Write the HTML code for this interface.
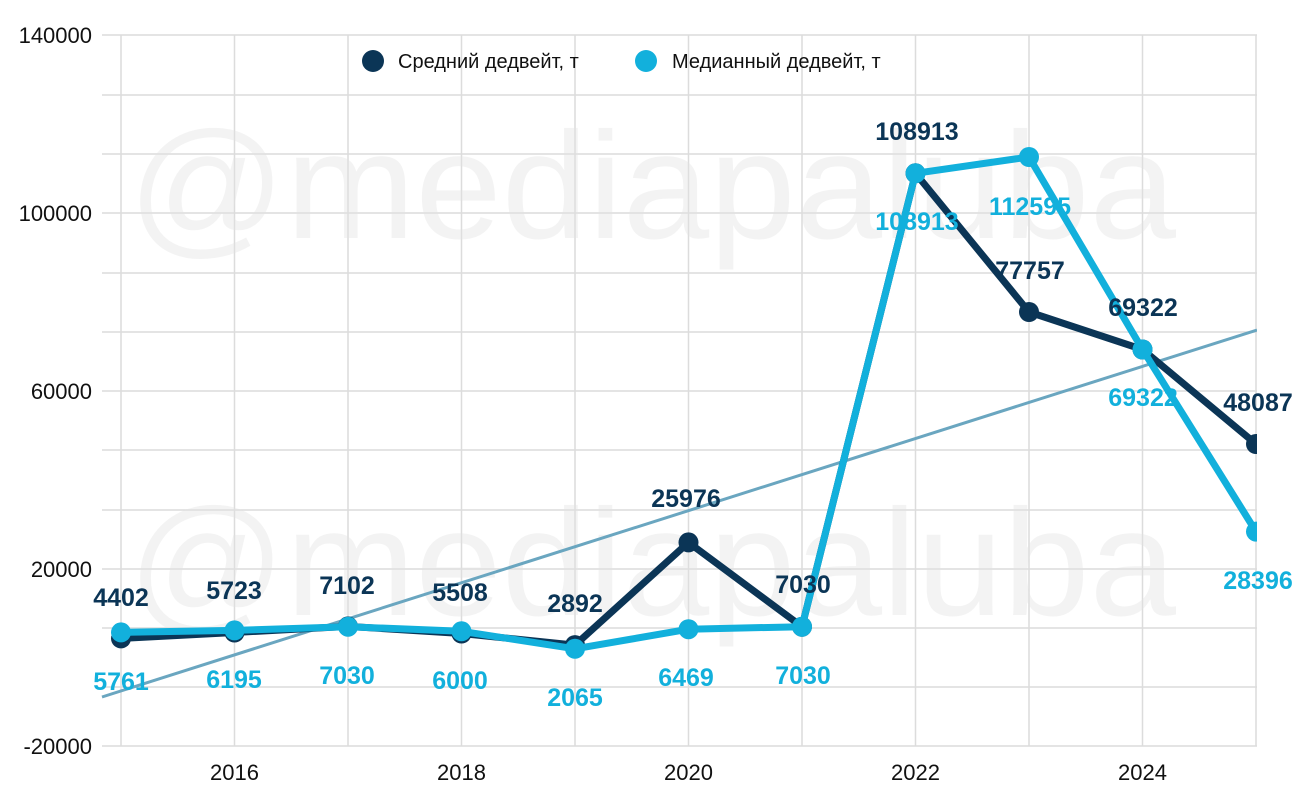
<!DOCTYPE html>
<html><head><meta charset="utf-8"><style>
html,body{margin:0;padding:0;background:#fff;}
svg{display:block;font-family:"Liberation Sans",Arial,sans-serif;}
.ax{font-size:22px;fill:#111;}
.ld{font-size:25px;font-weight:bold;fill:#0b3556;text-anchor:middle;}
.ll{font-size:25px;font-weight:bold;fill:#12b0dc;text-anchor:middle;}
</style></head><body>
<svg width="1300" height="809" viewBox="0 0 1300 809">
<defs><clipPath id="c"><rect x="0" y="0" width="1257" height="809"/></clipPath></defs>
<g stroke="#dcdcdc" stroke-width="1.5">
<line x1="102" y1="35" x2="1257" y2="35"/><line x1="102" y1="95" x2="1257" y2="95"/><line x1="102" y1="154" x2="1257" y2="154"/><line x1="102" y1="213" x2="1257" y2="213"/><line x1="102" y1="273" x2="1257" y2="273"/><line x1="102" y1="332" x2="1257" y2="332"/><line x1="102" y1="391" x2="1257" y2="391"/><line x1="102" y1="450" x2="1257" y2="450"/><line x1="102" y1="510" x2="1257" y2="510"/><line x1="102" y1="569" x2="1257" y2="569"/><line x1="102" y1="628" x2="1257" y2="628"/><line x1="102" y1="687" x2="1257" y2="687"/><line x1="102" y1="746" x2="1257" y2="746"/>
<line x1="121" y1="35" x2="121" y2="746"/><line x1="234.5" y1="35" x2="234.5" y2="746"/><line x1="348" y1="35" x2="348" y2="746"/><line x1="461.5" y1="35" x2="461.5" y2="746"/><line x1="575" y1="35" x2="575" y2="746"/><line x1="688.5" y1="35" x2="688.5" y2="746"/><line x1="802" y1="35" x2="802" y2="746"/><line x1="915.5" y1="35" x2="915.5" y2="746"/><line x1="1029" y1="35" x2="1029" y2="746"/><line x1="1142.5" y1="35" x2="1142.5" y2="746"/><line x1="1256" y1="35" x2="1256" y2="746"/>
</g>
<g font-size="152" fill="#e2e2e2" fill-opacity="0.4" font-family="'Liberation Sans',sans-serif">
<text x="128" y="238" textLength="1048" lengthAdjust="spacingAndGlyphs">@mediapaluba</text>
<text x="128" y="615" textLength="1048" lengthAdjust="spacingAndGlyphs">@mediapaluba</text>
</g>
<g class="ax" text-anchor="end">
<text x="92" y="43">140000</text><text x="92" y="221">100000</text><text x="92" y="399">60000</text><text x="92" y="577">20000</text><text x="92" y="754">-20000</text>
</g>
<g class="ax" text-anchor="middle">
<text x="234.5" y="780">2016</text><text x="461.5" y="780">2018</text><text x="688.5" y="780">2020</text><text x="915.5" y="780">2022</text><text x="1142.5" y="780">2024</text>
</g>
<g clip-path="url(#c)">
<line x1="102" y1="697" x2="1257" y2="330" stroke="#6aa6c0" stroke-width="3"/>
<polyline fill="none" stroke="#0b3556" stroke-width="7" stroke-linejoin="round" points="121,638.4 234.5,632.5 348,626.4 461.5,633.5 575,645.1 688.5,542.4 802,626.7 915.5,173.3 1029,312 1142.5,349.5 1256,444"/>
<g fill="#0b3556"><circle cx="121" cy="638.4" r="10"/><circle cx="234.5" cy="632.5" r="10"/><circle cx="348" cy="626.4" r="10"/><circle cx="461.5" cy="633.5" r="10"/><circle cx="575" cy="645.1" r="10"/><circle cx="688.5" cy="542.4" r="10"/><circle cx="802" cy="626.7" r="10"/><circle cx="915.5" cy="173.3" r="10"/><circle cx="1029" cy="312" r="10"/><circle cx="1142.5" cy="349.5" r="10"/><circle cx="1256" cy="444" r="10"/></g>
<polyline fill="none" stroke="#12b0dc" stroke-width="7" stroke-linejoin="round" points="121,632.4 234.5,630.4 348,626.7 461.5,631.3 575,648.8 688.5,629.2 802,626.7 915.5,173.3 1029,157 1142.5,349.5 1256,531.6"/>
<g fill="#12b0dc"><circle cx="121" cy="632.4" r="10"/><circle cx="234.5" cy="630.4" r="10"/><circle cx="348" cy="626.7" r="10"/><circle cx="461.5" cy="631.3" r="10"/><circle cx="575" cy="648.8" r="10"/><circle cx="688.5" cy="629.2" r="10"/><circle cx="802" cy="626.7" r="10"/><circle cx="915.5" cy="173.3" r="10"/><circle cx="1029" cy="157" r="10"/><circle cx="1142.5" cy="349.5" r="10"/><circle cx="1256" cy="531.6" r="10"/></g>
</g>
<g class="ld">
<text x="121" y="606">4402</text><text x="234" y="599">5723</text><text x="347" y="594">7102</text><text x="460" y="601">5508</text><text x="575" y="612">2892</text><text x="686" y="507">25976</text><text x="803" y="593">7030</text><text x="917" y="140">108913</text><text x="1030" y="279">77757</text><text x="1143" y="316">69322</text><text x="1258" y="411">48087</text>
</g>
<g class="ll">
<text x="121" y="690">5761</text><text x="234" y="688">6195</text><text x="347" y="684">7030</text><text x="460" y="689">6000</text><text x="575" y="706">2065</text><text x="686" y="686">6469</text><text x="803" y="684">7030</text><text x="917" y="230">108913</text><text x="1030" y="215">112595</text><text x="1143" y="406">69322</text><text x="1258" y="589">28396</text>
</g>
<circle cx="373" cy="61" r="11" fill="#0b3556"/>
<text x="398" y="68" font-size="20" fill="#111">Средний дедвейт, т</text>
<circle cx="646" cy="61" r="11" fill="#12b0dc"/>
<text x="672" y="68" font-size="20" fill="#111">Медианный дедвейт, т</text>
</svg>
</body></html>
